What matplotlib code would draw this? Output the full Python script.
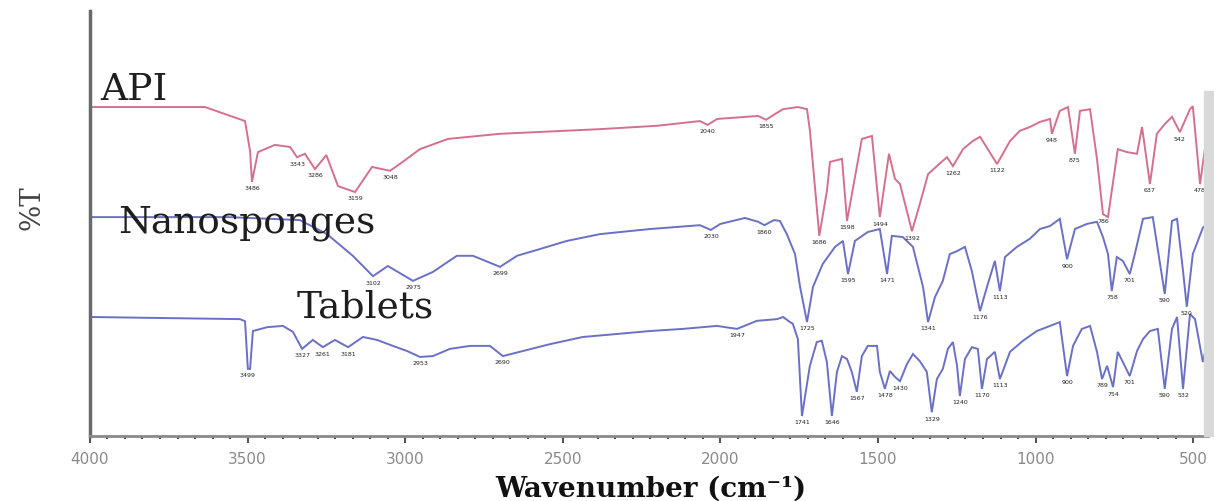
import numpy as np
import matplotlib
matplotlib.use('Agg')
from matplotlib import pyplot as plt
from matplotlib.ticker import MultipleLocator, AutoMinorLocator
from matplotlib.patches import Rectangle


# FTIR spectra (wavenumber in cm-1, %T on the stacked display scale)
api_wn = [4000, 3635, 3508, 3492, 3486, 3467, 3413, 3365, 3343, 3318, 3286, 3250, 3213, 3159,
          3105, 3048, 3017, 2953, 2864, 2700, 2382, 2200, 2065, 2040, 2010, 1880, 1855, 1830,
          1801, 1754, 1725, 1716, 1686, 1662, 1652, 1614, 1598, 1551, 1519, 1494, 1465, 1446,
          1430, 1392, 1367, 1341, 1313, 1281, 1262, 1230, 1199, 1176, 1122, 1081, 1050, 1018,
          986, 954, 948, 923, 897, 875, 859, 827, 805, 786, 770, 739, 710, 678, 662, 637, 615,
          590, 567, 542, 510, 501, 478, 456]
api_t = [77.4, 77.4, 74.1, 67.0, 59.8, 66.8, 68.5, 68.0, 65.6, 66.4, 62.8, 66.1, 58.8, 57.4,
         63.3, 62.4, 64.0, 67.5, 69.9, 71.1, 72.2, 73.0, 74.1, 73.2, 74.6, 75.3, 74.4, 75.6,
         76.9, 77.4, 76.9, 72.0, 47.1, 57.6, 64.5, 65.2, 50.6, 69.9, 70.6, 51.5, 66.4, 60.5,
         59.3, 48.2, 54.6, 61.6, 63.5, 65.6, 63.5, 67.5, 69.4, 70.4, 64.0, 69.4, 71.8, 72.7,
         73.9, 74.6, 71.1, 76.5, 77.4, 66.4, 76.5, 76.9, 65.2, 52.2, 51.5, 67.5, 66.8, 66.4,
         72.7, 59.3, 71.1, 73.4, 75.1, 71.5, 76.9, 77.6, 59.3, 71.1]

nano_wn = [4000, 3560, 3334, 3248, 3166, 3102, 3055, 2975, 2912, 2836, 2785, 2699, 2645, 2572,
           2487, 2382, 2223, 2065, 2030, 2000, 1922, 1880, 1860, 1830, 1811, 1789, 1763, 1747,
           1725, 1706, 1675, 1636, 1611, 1595, 1573, 1532, 1494, 1471, 1456, 1421, 1389, 1357,
           1341, 1319, 1294, 1272, 1249, 1224, 1202, 1176, 1154, 1129, 1113, 1097, 1059, 1018,
           986, 954, 923, 900, 875, 837, 805, 786, 770, 758, 742, 723, 701, 685, 659, 628, 590,
           567, 551, 532, 520, 501, 469, 456]
nano_t = [51.5, 51.5, 50.8, 47.5, 42.4, 37.6, 40.0, 36.5, 38.6, 42.4, 42.4, 39.8, 42.4, 44.0,
          45.9, 47.5, 48.7, 49.6, 48.5, 49.9, 51.3, 50.4, 49.6, 50.8, 50.6, 47.5, 42.8, 35.1,
          26.8, 35.1, 40.5, 44.5, 45.9, 38.1, 45.9, 48.0, 48.7, 38.1, 47.1, 46.8, 44.5, 35.1,
          26.8, 32.7, 36.5, 42.8, 43.5, 44.5, 38.8, 29.4, 35.1, 41.2, 34.1, 42.1, 44.5, 46.4,
          48.7, 49.4, 51.1, 41.6, 48.7, 49.9, 50.4, 46.8, 42.8, 34.1, 42.1, 41.2, 38.1, 42.8,
          51.1, 51.5, 33.4, 50.6, 51.1, 38.8, 30.4, 42.8, 49.0, 50.0]

tab_wn = [4000, 3524, 3508, 3499, 3492, 3483, 3438, 3388, 3356, 3327, 3293, 3261, 3223, 3181,
          3134, 3089, 3039, 2994, 2953, 2912, 2858, 2794, 2731, 2690, 2626, 2541, 2436, 2328,
          2223, 2119, 2011, 1947, 1884, 1820, 1801, 1779, 1770, 1754, 1741, 1716, 1694, 1678,
          1662, 1646, 1630, 1614, 1598, 1583, 1567, 1551, 1532, 1503, 1494, 1478, 1462, 1446,
          1430, 1408, 1389, 1367, 1345, 1329, 1313, 1294, 1278, 1262, 1249, 1240, 1224, 1202,
          1183, 1170, 1154, 1129, 1113, 1081, 1040, 996, 954, 923, 900, 881, 853, 827, 805, 789,
          773, 754, 739, 723, 701, 678, 659, 637, 612, 590, 567, 551, 532, 510, 494, 469, 456]
tab_t = [28.0, 27.5, 27.0, 15.8, 15.8, 24.7, 25.6, 25.9, 24.5, 20.5, 22.6, 20.9, 22.6, 20.9,
         23.3, 22.6, 21.2, 20.0, 18.6, 18.8, 20.5, 21.2, 21.2, 18.8, 20.0, 21.6, 23.3, 24.0,
         24.7, 25.2, 25.9, 25.2, 27.1, 27.5, 28.0, 26.8, 26.4, 22.8, 4.7, 16.5, 22.1, 22.4,
         17.4, 4.7, 15.1, 18.8, 18.1, 15.1, 10.4, 18.8, 21.2, 21.2, 15.1, 11.1, 15.3, 13.9,
         12.9, 16.9, 19.3, 17.6, 15.1, 5.6, 13.4, 15.8, 20.5, 22.1, 16.5, 9.4, 18.1, 20.9,
         20.5, 11.1, 18.1, 19.8, 13.4, 19.8, 22.4, 24.7, 25.9, 26.8, 14.1, 21.2, 25.2, 25.9,
         19.8, 13.4, 16.5, 11.5, 19.8, 17.4, 14.1, 20.0, 22.8, 24.7, 25.2, 11.1, 25.2, 28.0,
         11.1, 28.7, 27.5, 17.4, 22.0]

# picked bands (annotated below each minimum)
api_peaks = [3486, 3343, 3286, 3159, 3048, 2040, 1855, 1686, 1598, 1494, 1392, 1262, 1122,
             948, 875, 786, 637, 542, 478]
nano_peaks = [3102, 2975, 2699, 2030, 1860, 1725, 1595, 1471, 1341, 1176, 1113, 900, 758,
              701, 590, 520]
tab_peaks = [3499, 3327, 3261, 3181, 2953, 2690, 1947, 1741, 1646, 1567, 1478, 1430, 1329,
             1240, 1170, 1113, 900, 789, 754, 701, 590, 532]

spectra = [
    ('API', api_wn, api_t, api_peaks, '#d4708e', (3968, 79.3)),
    ('Nanosponges', nano_wn, nano_t, nano_peaks, '#6a70c6', (3911, 48.0)),
    ('Tablets', tab_wn, tab_t, tab_peaks, '#6a70c6', (3343, 28.0)),
]

fig = plt.figure(figsize=(12.14, 5.02), dpi=100)
ax = fig.add_axes([0.0741, 0.1295, 0.9209, 0.8466])

for name, wn, t, peaks, color, (lx, ly) in spectra:
    ax.plot(wn, t, color=color, lw=1.4, solid_joinstyle='miter')
    lookup = dict(zip(wn, t))
    for p in peaks:
        ax.text(p, lookup[p] - 0.8, str(p), fontsize=4.5, color='#222222',
                ha='center', va='top')
    ax.text(lx, ly, name, fontsize=27, family='DejaVu Serif', color='#1e1e1e',
            ha='left', va='baseline')

ax.set_xlim(4000, 453)
ax.set_ylim(0, 100)
ax.set_yticks([])
ax.xaxis.set_major_locator(MultipleLocator(500))
ax.xaxis.set_minor_locator(AutoMinorLocator(9))

for side in ['top', 'right']:
    ax.spines[side].set_visible(False)
ax.spines['left'].set_color('#6a6a6a')
ax.spines['left'].set_linewidth(2.5)
ax.spines['bottom'].set_color('#8a8a8a')
ax.spines['bottom'].set_linewidth(2)

ax.tick_params(axis='x', which='major', length=5, width=1.5, color='#555555',
               labelsize=11, labelcolor='#8a8a8a', pad=6)
ax.tick_params(axis='x', which='minor', length=2.5, width=1.5, color='#444444')

ax.set_xlabel('Wavenumber (cm⁻¹)', fontsize=20, family='DejaVu Serif',
              fontweight='bold', color='#111111')
ax.xaxis.set_label_coords(0.502, -0.092)
ax.set_ylabel('%T', fontsize=20, family='DejaVu Serif', color='#444444')
ax.yaxis.set_label_coords(-0.040, 0.539)

# grey strip along the right edge
fig.patches.append(Rectangle((1204 / 1214, 65 / 502), 9 / 1214, 345 / 502,
                             transform=fig.transFigure, color='#d9d9d9', zorder=0))

fig.savefig('out.png', dpi=100)
